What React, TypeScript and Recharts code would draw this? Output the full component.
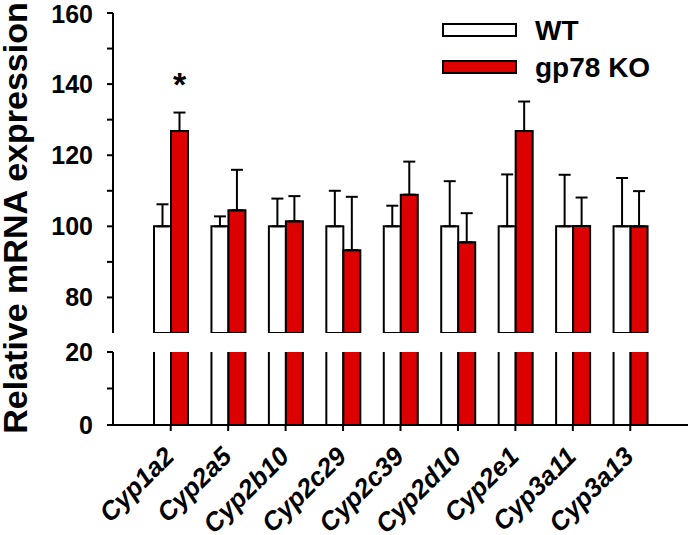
import { BarChart, Bar, XAxis, YAxis, ErrorBar, LabelList, Legend, Label } from 'recharts';

const genes = ['Cyp1a2', 'Cyp2a5', 'Cyp2b10', 'Cyp2c29', 'Cyp2c39', 'Cyp2d10', 'Cyp2e1', 'Cyp3a11', 'Cyp3a13'];
const wtMean = [100, 100, 100, 100, 100, 100, 100, 100, 100];
const wtSem = [6.2, 2.8, 7.8, 10.0, 5.8, 12.7, 14.6, 14.5, 13.6];
const koMean = [126.8, 104.5, 101.4, 93.3, 108.9, 95.5, 126.8, 100.1, 100];
const koSem = [5.2, 11.4, 7.1, 15.0, 9.3, 8.2, 8.3, 8.0, 9.9];
const marks = ['*', '', '', '', '', '', '', '', ''];

const upperTicks = [80, 90, 100, 110, 120, 130, 140, 150, 160];
const lowerTicks = [0, 10, 20];

const data = genes.map((gene, i) => ({
  gene,
  wt: wtMean[i],
  wtErr: [0, wtSem[i]],
  ko: koMean[i],
  koErr: [0, koSem[i]],
  mark: marks[i],
}));

const FONT = '"Liberation Sans", Arial, sans-serif';
const RED = '#dc0000';
const W = 690;
const H = 535;
const AXIS_X = 113;
const LEGEND_H = 70;

const axisStyle = { stroke: '#000', strokeWidth: 2 };
const tickStyle = { fontSize: 25, fontWeight: 700, fill: '#000', fontFamily: FONT };
const showMajor = (v: number) => (v % 20 === 0 ? String(v) : '');

const GeneTick = (props: any) => {
  const { x, y, payload } = props;
  const px = x + 5;
  const py = y + 27;
  return (
    <text
      x={px}
      y={py}
      transform={`rotate(-45 ${px} ${py})`}
      textAnchor="end"
      fontSize={26}
      fontWeight={700}
      fontStyle="italic"
      fontFamily={FONT}
      fill="#000"
    >
      {payload.value}
    </text>
  );
};

const StarLabel = (props: any) => {
  const { x, y, width, value } = props;
  if (!value) return null;
  return (
    <text x={x + width / 2} y={y - 35} textAnchor="middle" fontSize={34} fontWeight={700} fontFamily={FONT} fill="#000">
      {value}
    </text>
  );
};

const LegendBox = () => (
  <svg width={240} height={LEGEND_H} style={{ display: 'block' }}>
    <rect x={3} y={4} width={73} height={12} fill="#fff" stroke="#000" strokeWidth={2} />
    <text x={95} y={20} fontSize={28} fontWeight={700} fontFamily={FONT} fill="#000">WT</text>
    <rect x={3} y={41} width={73} height={12} fill={RED} stroke="#000" strokeWidth={2} />
    <text x={95} y={57} fontSize={28} fontWeight={700} fontFamily={FONT} fill="#000">gp78 KO</text>
  </svg>
);

const YTitle = () => (
  <text
    x={27}
    y={218}
    transform="rotate(-90 27 218)"
    textAnchor="middle"
    fontSize={34}
    fontWeight={700}
    fontFamily={FONT}
    fill="#000"
  >
    Relative mRNA expression
  </text>
);

export default function App() {
  const xPad = { left: 29, right: 29 };
  return (
    <div style={{ position: 'absolute', left: 0, top: 0, width: W, height: H, background: '#fff' }}>
      <div style={{ position: 'absolute', left: 0, top: 0 }}>
        <BarChart width={W} height={H} data={data} barGap={0} barSize={17} baseValue={40}
          margin={{ top: 13, right: 2, bottom: 202 - LEGEND_H, left: 0 }}>
          <XAxis dataKey="gene" hide padding={xPad} />
          <YAxis
            domain={[70, 160]}
            ticks={upperTicks}
            allowDataOverflow
            width={AXIS_X}
            axisLine={axisStyle}
            tickLine={axisStyle}
            tickSize={6}
            tickMargin={14}
            tick={tickStyle}
            tickFormatter={showMajor}
          >
            <Label content={YTitle} />
          </YAxis>
          <Legend content={LegendBox} wrapperStyle={{ position: 'absolute', left: 440, top: 20, width: 240, height: LEGEND_H }} />
          <Bar dataKey="wt" name="WT" fill="#fff" stroke="#000" strokeWidth={2} isAnimationActive={false}>
            <ErrorBar dataKey="wtErr" width={6} stroke="#000" strokeWidth={2} />
          </Bar>
          <Bar dataKey="ko" name="gp78 KO" fill={RED} stroke="#000" strokeWidth={2} isAnimationActive={false}>
            <ErrorBar dataKey="koErr" width={6} stroke="#000" strokeWidth={2} />
            <LabelList dataKey="mark" content={StarLabel} />
          </Bar>
        </BarChart>
      </div>
      <div style={{ position: 'absolute', left: 0, top: 0 }}>
        <BarChart width={W} height={H} data={data} barGap={0} barSize={17}
          margin={{ top: 352, right: 2, bottom: 0, left: 0 }}>
          <XAxis
            dataKey="gene"
            padding={xPad}
            height={110}
            axisLine={axisStyle}
            tickLine={axisStyle}
            tickSize={6}
            tickMargin={0}
            tick={GeneTick}
            interval={0}
          />
          <YAxis
            domain={[0, 20]}
            ticks={lowerTicks}
            allowDataOverflow
            width={AXIS_X}
            axisLine={axisStyle}
            tickLine={axisStyle}
            tickSize={6}
            tickMargin={14}
            tick={tickStyle}
            tickFormatter={showMajor}
          />
          <Bar dataKey="wt" fill="#fff" stroke="#000" strokeWidth={2} isAnimationActive={false} />
          <Bar dataKey="ko" fill={RED} stroke="#000" strokeWidth={2} isAnimationActive={false} />
        </BarChart>
      </div>
    </div>
  );
}
